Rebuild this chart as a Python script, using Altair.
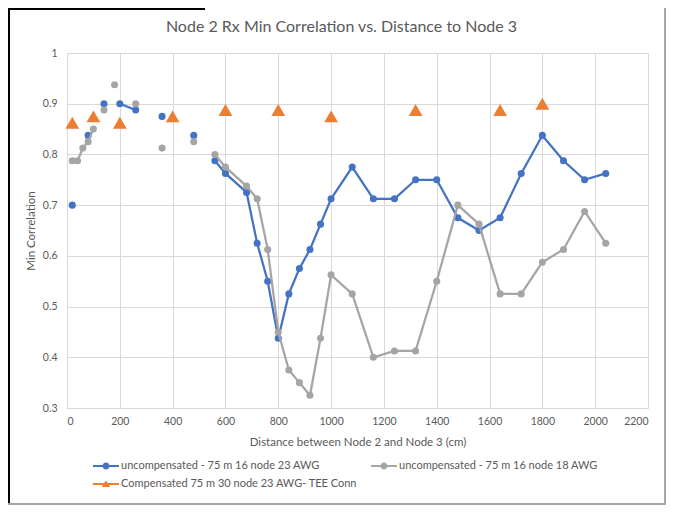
import altair as alt
import pandas as pd

TITLE = "Node 2 Rx Min Correlation vs. Distance to Node 3"
X_TITLE = "Distance between Node 2 and Node 3 (cm)"
Y_TITLE = "Min Correlation"

SERIES = [
    "uncompensated - 75 m 16 node 23 AWG",
    "uncompensated - 75 m 16 node 18 AWG",
    "Compensated 75 m 30 node 23 AWG- TEE Conn",
]
COLORS = ["#4472C4", "#A5A5A5", "#ED7D31"]

# None = blank row in the sheet (breaks the line)
blue_x = [20, 40, 80, 100, 140, 160, 200, 260, 300, 360, 420, 480, 520,
          560, 600, 680, 720, 760, 800, 840, 880, 920, 960, 1000, 1080,
          1160, 1240, 1320, 1400, 1480, 1560, 1640, 1720, 1800, 1880, 1960, 2040]
blue_y = [0.70, None, 0.8375, None, 0.90, None, 0.90, 0.8875, None, 0.875, None, 0.8375, None,
          0.7875, 0.7625, 0.725, 0.625, 0.55, 0.4375, 0.525, 0.575, 0.6125, 0.6625, 0.7125, 0.775,
          0.7125, 0.7125, 0.75, 0.75, 0.675, 0.65, 0.675, 0.7625, 0.8375, 0.7875, 0.75, 0.7625]

grey_x = [20, 40, 60, 80, 100, 120, 140, 160, 180, 220, 260, 300, 360, 420, 480, 520,
          560, 600, 680, 720, 760, 800, 840, 880, 920, 960, 1000, 1080,
          1160, 1240, 1320, 1400, 1480, 1560, 1640, 1720, 1800, 1880, 1960, 2040]
grey_y = [0.7875, 0.7875, 0.8125, 0.825, 0.85, None, 0.8875, None, 0.9375, None, 0.90, None,
          0.8125, None, 0.825, None,
          0.80, 0.775, 0.7375, 0.7125, 0.6125, 0.45, 0.375, 0.35, 0.325, 0.4375, 0.5625, 0.525,
          0.40, 0.4125, 0.4125, 0.55, 0.70, 0.6625, 0.525, 0.525, 0.5875, 0.6125, 0.6875, 0.625]

orange_x = [20, 100, 200, 400, 600, 800, 1000, 1320, 1640, 1800]
orange_y = [0.8625, 0.875, 0.8625, 0.875, 0.8875, 0.8875, 0.875, 0.8875, 0.8875, 0.90]

X_TICKS = list(range(0, 2201, 200))
Y_TICKS = [0.3, 0.4, 0.5, 0.6, 0.7, 0.8, 0.9, 1.0]


def rows(name, xs, ys):
    out, seg = [], 0
    for x, y in zip(xs, ys):
        if y is None:
            seg += 1
            continue
        out.append({"series": name, "x": x, "y": y, "seg": f"{name}|{seg}"})
    return out


df = pd.DataFrame(rows(SERIES[0], blue_x, blue_y)
                  + rows(SERIES[1], grey_x, grey_y)
                  + rows(SERIES[2], orange_x, orange_y))

FONT = "Lato"
TXT = "#595959"

xs = alt.Scale(domain=[0, 2200], nice=False, zero=False)
ys = alt.Scale(domain=[0.3, 1.0], nice=False, zero=False)
cs = alt.Scale(domain=SERIES, range=COLORS)

X = alt.X("x:Q", scale=xs, title=X_TITLE,
          axis=alt.Axis(values=X_TICKS, grid=True, domain=True, ticks=False, format="d",
                        labelPadding=8, titlePadding=10))
Y = alt.Y("y:Q", scale=ys, title=Y_TITLE,
          axis=alt.Axis(values=Y_TICKS, grid=True, domain=False, ticks=False,
                        format=".1~f", labelPadding=10, titlePadding=6))

base = alt.Chart(df)

LINE = "M-1.3,-0.1H1.3V0.1H-1.3Z "
PATHS = [
    LINE + "M0.35,0A0.35,0.35 0 1,1 -0.35,0A0.35,0.35 0 1,1 0.35,0Z",
    LINE + "M0.35,0A0.35,0.35 0 1,1 -0.35,0A0.35,0.35 0 1,1 0.35,0Z",
    LINE + "M0,-0.38L0.42,0.3L-0.42,0.3Z",
]

# invisible layer that only carries the legend
legend_layer = base.mark_point(filled=True, opacity=0).encode(
    x=X, y=Y,
    color=alt.Color("series:N", scale=cs, legend=alt.Legend(title=None)),
    shape=alt.Shape("series:N", scale=alt.Scale(domain=SERIES, range=PATHS),
                    legend=alt.Legend(title=None)),
)

layers = [legend_layer]
for name, col in zip(SERIES[:2], COLORS[:2]):
    sub = base.transform_filter(alt.datum.series == name)
    layers.append(sub.mark_line(strokeWidth=2.25, color=col).encode(x=X, y=Y, detail="seg:N"))
    layers.append(sub.mark_point(filled=True, size=50, opacity=1, shape="circle", color=col)
                  .encode(x=X, y=Y))
layers.append(base.transform_filter(alt.datum.series == SERIES[2])
              .mark_point(filled=True, size=190, opacity=1, shape="triangle-up", color=COLORS[2])
              .encode(x=X, y=Y))

# screenshot frame around the chart
frame_left = alt.Chart(df).mark_rule(color="#000000", strokeWidth=1.5).encode(
    x=alt.value(-58.25), y=alt.value(-45), y2=alt.value(452))
frame_top = alt.Chart(df).mark_rule(color="#000000", strokeWidth=1.5).encode(
    x=alt.value(-59), x2=alt.value(138), y=alt.value(-44.25))
frame_bottom = alt.Chart(df).mark_rule(color="#a6a6a6", strokeWidth=1.5).encode(
    x=alt.value(-59), x2=alt.value(598), y=alt.value(451))
frame_right = alt.Chart(df).mark_rule(color="#a6a6a6", strokeWidth=1.5).encode(
    x=alt.value(598), y=alt.value(-45), y2=alt.value(452))
layers += [frame_left, frame_top, frame_bottom, frame_right]

chart = alt.layer(*layers).properties(
    width=581, height=355,
    autosize=alt.AutoSizeParams(type="none"),
    padding={"left": 59, "top": 45, "right": 18, "bottom": 97},
    title=alt.TitleParams(TITLE, anchor="middle", frame="group", dx=-16,
                          font=FONT, fontSize=16, fontWeight="normal",
                          color=TXT, offset=-28),
).configure_view(stroke=None).configure_axis(
    labelFont=FONT, labelFontSize=10.5, labelColor=TXT,
    titleFont=FONT, titleFontSize=11.5, titleColor=TXT, titleFontWeight="normal",
    gridColor="#d9d9d9", gridWidth=1, domainColor="#d9d9d9", domainWidth=1,
).configure_legend(
    orient="none", legendX=29, legendY=403, columns=2, direction="horizontal",
    symbolSize=400, symbolStrokeWidth=0, symbolOpacity=1,
    labelFont=FONT, labelFontSize=11, labelColor=TXT, labelOffset=5, labelLimit=400,
    columnPadding=13, rowPadding=3, padding=0,
)

chart.save("out.html", embed_options={"renderer": "svg", "actions": False})
